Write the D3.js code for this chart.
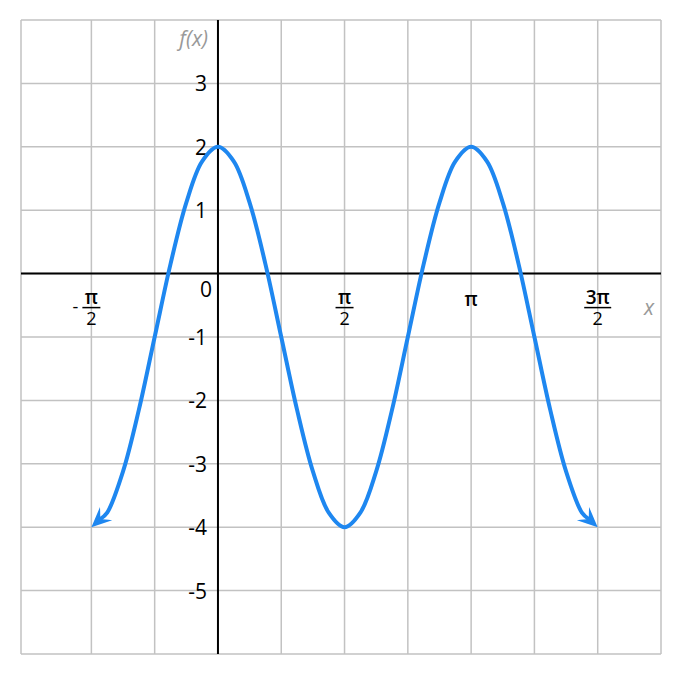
<!DOCTYPE html>
<html>
<head>
<meta charset="utf-8">
<script src="https://cdn.jsdelivr.net/npm/d3@7"></script>
<style>
  body { margin: 0; background: #fff; }
  text { font-family: "Open Sans", "Noto Sans", sans-serif; }
</style>
</head>
<body>
<div id="chart"></div>
<script>
// x values are in units of pi
const xValues = [-0.5, -0.4375, -0.375, -0.3125, -0.25, -0.1875, -0.125, -0.0625,
  0, 0.0625, 0.125, 0.1875, 0.25, 0.3125, 0.375, 0.4375,
  0.5, 0.5625, 0.625, 0.6875, 0.75, 0.8125, 0.875, 0.9375,
  1, 1.0625, 1.125, 1.1875, 1.25, 1.3125, 1.375, 1.4375, 1.5];
const yValues = [-4, -3.77, -3.12, -2.15, -1, 0.15, 1.12, 1.77,
  2, 1.77, 1.12, 0.15, -1, -2.15, -3.12, -3.77,
  -4, -3.77, -3.12, -2.15, -1, 0.15, 1.12, 1.77,
  2, 1.77, 1.12, 0.15, -1, -2.15, -3.12, -3.77, -4];

const yTicks = [3, 2, 1, -1, -2, -3, -4, -5];
const xTicks = [
  {v: -0.5, sign: '-', num: 'π', den: '2'},
  {v: 0.5, sign: '', num: 'π', den: '2'},
  {v: 1, sign: '', num: 'π', den: null},
  {v: 1.5, sign: '', num: '3π', den: '2'}
];
const xGrid = [-0.5, -0.25, 0, 0.25, 0.5, 0.75, 1, 1.25, 1.5, 1.75];
const yGrid = [-6, -5, -4, -3, -2, -1, 0, 1, 2, 3, 4];

const width = 680, height = 674;
const x = d3.scaleLinear().domain([-0.778, 1.75]).range([21, 661]);
const y = d3.scaleLinear().domain([-6, 4]).range([654, 20]);

const svg = d3.select('#chart').append('svg')
  .attr('width', width).attr('height', height);

const gridColor = '#c2c2c2';

// grid
svg.append('g').selectAll('line').data(xGrid).enter().append('line')
  .attr('x1', d => x(d)).attr('x2', d => x(d))
  .attr('y1', y(-6)).attr('y2', y(4))
  .attr('stroke', gridColor).attr('stroke-width', 1.5);
svg.append('g').selectAll('line').data(yGrid).enter().append('line')
  .attr('x1', x.range()[0]).attr('x2', x.range()[1])
  .attr('y1', d => y(d)).attr('y2', d => y(d))
  .attr('stroke', gridColor).attr('stroke-width', 1.5);
svg.append('line')
  .attr('x1', x.range()[0]).attr('x2', x.range()[0])
  .attr('y1', y(-6)).attr('y2', y(4))
  .attr('stroke', gridColor).attr('stroke-width', 1.5);

// axes
svg.append('line')
  .attr('x1', x.range()[0]).attr('x2', x.range()[1])
  .attr('y1', y(0)).attr('y2', y(0))
  .attr('stroke', '#000').attr('stroke-width', 2);
svg.append('line')
  .attr('x1', x(0)).attr('x2', x(0))
  .attr('y1', y(-6)).attr('y2', y(4))
  .attr('stroke', '#000').attr('stroke-width', 2);

// y tick labels
svg.append('g').selectAll('text').data(yTicks).enter().append('text')
  .attr('x', x(0) - 11).attr('y', d => y(d) + 8)
  .attr('text-anchor', 'end').attr('font-size', 21)
  .text(d => d);
svg.append('text')
  .attr('x', x(0) - 6).attr('y', y(0) + 23)
  .attr('text-anchor', 'end').attr('font-size', 21)
  .text('0');

// x tick labels
const xl = svg.append('g').selectAll('g').data(xTicks).enter().append('g')
  .attr('transform', d => 'translate(' + x(d.v) + ',' + y(0) + ')');
xl.append('text')
  .attr('y', d => d.den ? 30 : 32)
  .attr('text-anchor', 'middle').attr('font-size', 19).attr('font-weight', 600)
  .text(d => d.num);
xl.filter(d => d.den).append('line')
  .attr('x1', d => d.num.length > 1 ? -13.5 : -9)
  .attr('x2', d => d.num.length > 1 ? 13.5 : 9)
  .attr('y1', 34).attr('y2', 34)
  .attr('stroke', '#000').attr('stroke-width', 1.5);
xl.filter(d => d.den).append('text')
  .attr('y', 51).attr('text-anchor', 'middle').attr('font-size', 18)
  .text(d => d.den);
xl.filter(d => d.sign).append('text')
  .attr('x', -13).attr('y', 39).attr('text-anchor', 'end').attr('font-size', 18)
  .text(d => d.sign);

// axis names
svg.append('text')
  .attr('x', x.range()[1] - 7).attr('y', y(0) + 41)
  .attr('text-anchor', 'end').attr('font-size', 21)
  .attr('font-style', 'italic').attr('fill', '#999')
  .text('x');
svg.append('text')
  .attr('x', x(0) - 10).attr('y', y(4) + 26)
  .attr('text-anchor', 'end').attr('font-size', 21)
  .attr('font-style', 'italic').attr('fill', '#999')
  .text('f(x)');

// curve
const blue = '#1e87f0';
const pts = xValues.map((v, i) => [x(v), y(yValues[i])]);
const notch = 12;
function arrowInfo(tip, prev) {
  const dx = tip[0] - prev[0], dy = tip[1] - prev[1];
  const len = Math.hypot(dx, dy);
  const ux = dx / len, uy = dy / len;
  return {
    angle: Math.atan2(dy, dx) * 180 / Math.PI,
    back: [tip[0] - ux * notch, tip[1] - uy * notch],
    tip: tip
  };
}
const n = pts.length;
const startArrow = arrowInfo(pts[0], pts[1]);
const endArrow = arrowInfo(pts[n - 1], pts[n - 2]);
const linePts = [startArrow.back].concat(pts.slice(1, n - 1), [endArrow.back]);

svg.append('path')
  .datum(linePts)
  .attr('d', d3.line().curve(d3.curveCatmullRom))
  .attr('fill', 'none').attr('stroke', blue).attr('stroke-width', 4);

svg.append('g').selectAll('path').data([startArrow, endArrow]).enter().append('path')
  .attr('d', 'M0,0 L-20,-9 Q-15,-3 -12,0 Q-15,3 -20,9 Z')
  .attr('transform', d => 'translate(' + d.tip[0] + ',' + d.tip[1] + ') rotate(' + d.angle + ')')
  .attr('fill', blue);
</script>
</body>
</html>
